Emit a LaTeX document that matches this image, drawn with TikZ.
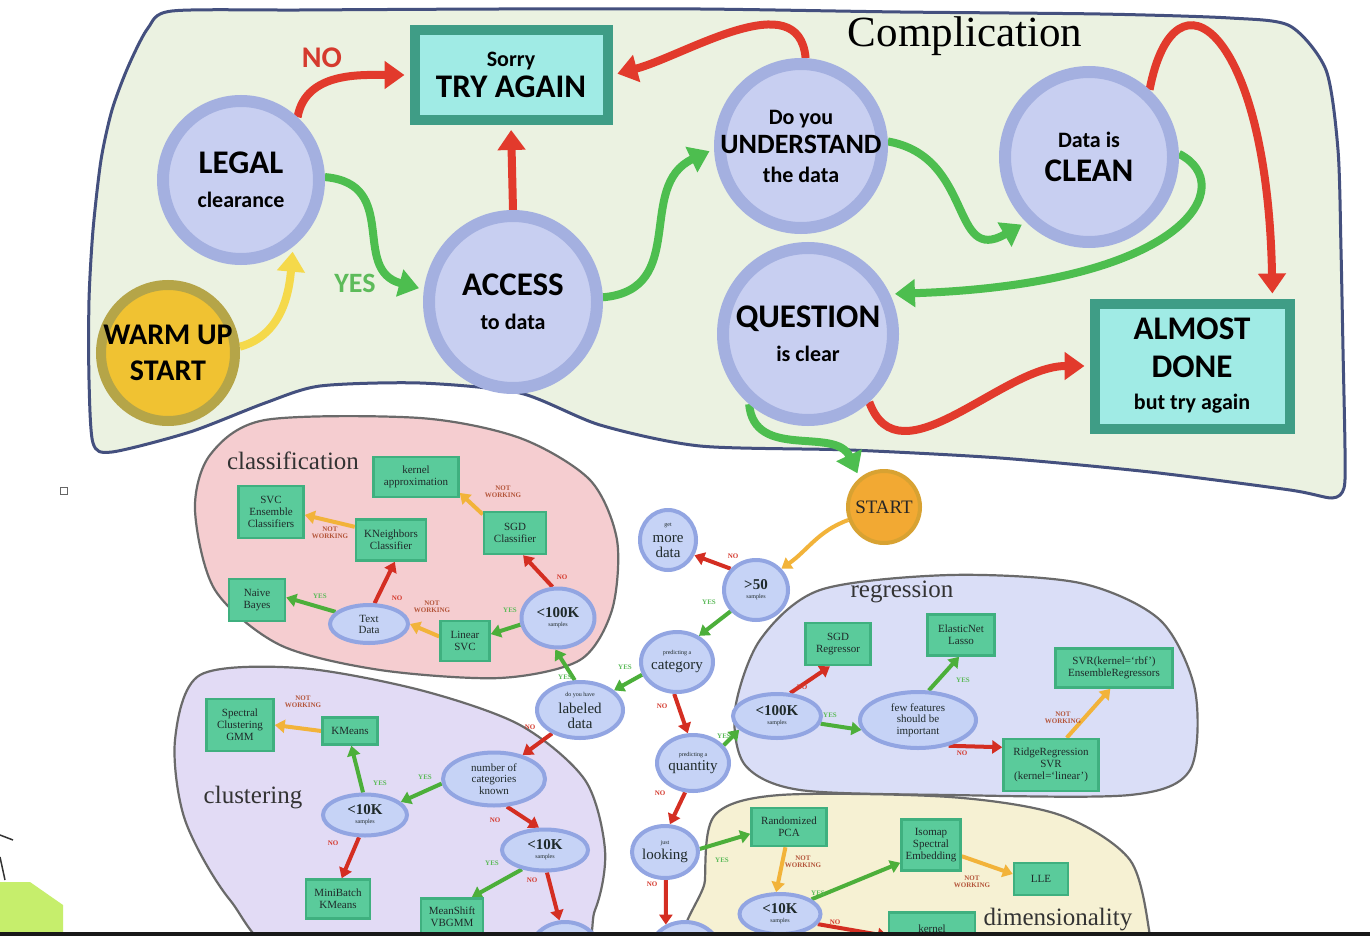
\documentclass[tikz,border=0pt]{standalone}
\usepackage{fontspec}
\setmainfont{Liberation Serif}
\newfontfamily\carl{Carlito}
\usetikzlibrary{shapes.geometric,arrows.meta,backgrounds}
\definecolor{topbg}{HTML}{EBF2E1}
\definecolor{topline}{HTML}{44507E}
\definecolor{ringblue}{HTML}{A4B0E0}
\definecolor{innerblue}{HTML}{C8CFF1}
\definecolor{boxteal}{HTML}{3F9D86}
\definecolor{boxcyan}{HTML}{A0EBE5}
\definecolor{warmfill}{HTML}{F0C232}
\definecolor{warmring}{HTML}{B5A548}
\definecolor{arrred}{HTML}{E23A2C}
\definecolor{arrgreen}{HTML}{4DBE4F}
\definecolor{arryellow}{HTML}{F5D94A}
\definecolor{labred}{HTML}{D53A2E}
\definecolor{labgreen}{HTML}{5DBB5A}
\definecolor{pinkblob}{HTML}{F5CDD0}
\definecolor{lilacblob}{HTML}{E2DBF5}
\definecolor{blueblob}{HTML}{DADEF7}
\definecolor{creamblob}{HTML}{F6F1D3}
\definecolor{blobline}{HTML}{6A6A6A}
\definecolor{skring}{HTML}{92A5E2}
\definecolor{skfill}{HTML}{C6D3F6}
\definecolor{skgreen}{HTML}{5ACB9B}
\definecolor{skgreendk}{HTML}{3FB07F}
\definecolor{skred}{HTML}{D42E22}
\definecolor{skgreenarr}{HTML}{4CAF3A}
\definecolor{skorange}{HTML}{F2B33A}
\definecolor{startfill}{HTML}{F2A933}
\definecolor{startring}{HTML}{D8A232}
\definecolor{nwcolor}{HTML}{B4553A}
\definecolor{limeshape}{HTML}{C6EE6C}
\definecolor{textdark}{HTML}{1F2A2A}
\newcommand\capsf{\carl\bfseries\fontsize{33}{36}\selectfont}
\newcommand\midf{\carl\bfseries\fontsize{28}{32}\selectfont}
\newcommand\smallf{\carl\bfseries\fontsize{22}{26}\selectfont}
\newcommand\sktiny{\fontsize{6}{6}\selectfont}
\newcommand\boxtxt{\fontsize{11}{12}\selectfont}
\newcommand\labtxt{\fontsize{7}{7}\selectfont\bfseries}
\newcommand\regtxt{\fontsize{25}{25}\selectfont}
\pgfdeclarelayer{arrowlayer}
\pgfsetlayers{background,arrowlayer,main}

\begin{document}
\begin{tikzpicture}[x=1pt,y=-1pt,
  bigq/.style={ellipse,fill=innerblue,draw=ringblue,line width=12pt,inner xsep=-70pt,inner ysep=-40pt,align=center,font=\carl\bfseries\fontsize{22}{34}\selectfont},
  bigbox/.style={rectangle,fill=boxcyan,draw=boxteal,line width=10pt,inner sep=0pt,align=center,font=\carl\bfseries\fontsize{22}{34}\selectfont},
  skq/.style={ellipse,fill=skfill,draw=skring,line width=4pt,inner xsep=-20pt,inner ysep=-12pt,align=center,text=textdark,font=\fontsize{15}{14}\selectfont},
  skbx/.style={rectangle,fill=skgreen,draw=skgreendk,line width=2.5pt,inner sep=0pt,align=center,font=\boxtxt,text=textdark},
  blob/.style={draw=blobline,line width=2.2pt},
  bigarrow/.style={line width=8pt,shorten >=5pt,-{Triangle[length=20pt,width=27pt]}},
  skarrow/.style={line width=4pt,-{Triangle[length=10pt,width=13pt]}},
  yeslab/.style={text=labgreen,font=\labtxt},
  nolab/.style={text=labred,font=\labtxt},
  nwlab/.style={text=nwcolor,font=\labtxt,align=center},
  arealab/.style={font=\regtxt,text=black!80}
]
\useasboundingbox (0,0) rectangle (1370,936);
\clip (0,0) rectangle (1370,936);

% regions
\begin{scope}[on background layer]
\fill[white] (0,0) rectangle (1370,936);
\draw[fill=topbg,draw=topline,line width=3pt] plot[smooth cycle,tension=0.45] coordinates {(172,11) (300,10) (500,9) (700,9) (900,12) (1100,14) (1230,18) (1290,26) (1326,70) (1338,150) (1341,250) (1343,350) (1345,450) (1344,488) (1332,498) (1290,490) (1150,472) (1000,458) (850,450) (700,446) (600,425) (520,393) (420,383) (320,386) (265,403) (190,432) (112,452) (93,443) (89,380) (89,300) (93,230) (101,160) (112,110) (128,67) (148,28)};
\draw[blob,fill=pinkblob] plot[smooth cycle] coordinates {(265,420) (420,418) (520,438) (590,480) (617,540) (612,610) (580,660) (500,678) (380,670) (280,645) (215,590) (195,510) (210,455)};
\draw[blob,fill=lilacblob] plot[smooth cycle] coordinates {(200,675) (300,668) (420,690) (520,725) (585,780) (605,850) (595,910) (560,960) (300,960) (230,900) (185,820) (175,740)};
\draw[blob,fill=blueblob] plot[smooth cycle] coordinates {(760,640) (820,590) (950,575) (1080,583) (1160,620) (1195,690) (1190,770) (1130,795) (950,795) (800,790) (745,765) (735,710)};
\draw[blob,fill=creamblob] plot[smooth cycle] coordinates {(715,815) (780,795) (950,797) (1060,815) (1130,860) (1150,936) (1150,970) (710,970) (705,880)};
\end{scope}

% top flow
\node[font=\rmfamily\fontsize{43}{43}\selectfont] (title) at (965,36) {Complication};
\node[bigbox,minimum width=193pt,minimum height=90pt] (try) at (511,75) {{\smallf Sorry}\\[-3pt]{\capsf TRY AGAIN}};
\node[bigq,minimum width=156pt,minimum height=158pt] (legal) at (241,180) {{\capsf LEGAL}\\{\smallf clearance}};
\node[bigq,fill=warmfill,draw=warmring,line width=10pt,minimum width=134pt,minimum height=136pt] (warm) at (168,353) {{\carl\bfseries\fontsize{30}{30}\selectfont WARM UP}\\[2pt]{\carl\bfseries\fontsize{30}{30}\selectfont START}};
\node[bigq,minimum width=168pt,minimum height=172pt] (access) at (513,302) {{\capsf ACCESS}\\{\smallf to data}};
\node[bigq,minimum width=162pt,minimum height=164pt] (under) at (801,146) {{\smallf Do you}\\[-5pt]{\midf UNDERSTAND}\\[-5pt]{\smallf the data}};
\node[bigq,minimum width=168pt,minimum height=170pt] (clean) at (1089,157) {{\smallf Data is}\\{\capsf CLEAN}};
\node[bigq,minimum width=170pt,minimum height=172pt] (quest) at (808,334) {{\capsf QUESTION}\\{\smallf is clear}};
\node[bigbox,minimum width=195pt,minimum height=125pt] (almost) at (1192,366) {{\capsf ALMOST}\\[4pt]{\capsf DONE}\\[-2pt]{\smallf but try again}};
\node[text=labred,font=\carl\bfseries\fontsize{30}{30}\selectfont] (nolabtop) at (322,58) {NO};
\node[text=labgreen,font=\carl\bfseries\fontsize{28}{28}\selectfont] (yeslabtop) at (355,283) {YES};
\node[skq,fill=startfill,draw=startring,minimum size=72pt,text=black!85,font=\fontsize{19}{19}\selectfont] (start) at (884,507) {START};

\begin{pgfonlayer}{arrowlayer}
\draw[bigarrow,color=arrred] (legal.48) to[out=80,in=180] (try.west);
\draw[bigarrow,color=arrgreen] (legal.2) to[out=-5,in=165,looseness=1.3] (access.172);
\draw[bigarrow,color=arryellow] (warm.5) to[out=15,in=-95] (legal.-52);
\draw[bigarrow,color=arrred] (access.north) -- (try.south);
\draw[bigarrow,color=arrgreen] (access.3) to[out=5,in=-155,looseness=1.2] (under.182);
\draw[bigarrow,color=arrred] (under.87) to[out=95,in=15] (try.east);
\draw[bigarrow,color=arrgreen] (under.3) to[out=-10,in=210,looseness=1.4] (clean.226);
\draw[bigarrow,color=arrred] (clean.48) .. controls +(25,-130) and +(-5,-270) .. (almost.40);
\draw[bigarrow,color=arrgreen] (clean.2) .. controls +(60,30) and +(300,-10) .. (quest.26);
\draw[bigarrow,color=arrred] (quest.-48) to[out=-70,in=180] (almost.west);
\draw[bigarrow,color=arrgreen] (quest.-130) to[out=-85,in=115,looseness=1.1] (start.130);
\end{pgfonlayer}

% centre column
\node[skq,minimum width=64pt,minimum height=60pt] (fifty) at (756,590) {{\bfseries >50}\\[-5pt]{\sktiny samples}};
\node[skq,minimum width=56pt,minimum height=60pt] (getdata) at (668,540) {{\sktiny get}\\[2pt]more\\[1pt]data};
\node[skq,minimum width=72pt,minimum height=60pt] (categ) at (677,662) {{\sktiny predicting a}\\[1pt]category};
\node[skq,minimum width=86pt,minimum height=56pt] (labeled) at (580,710) {{\sktiny do you have}\\[3pt]labeled\\[1pt]data};
\node[skq,minimum width=72pt,minimum height=56pt] (quant) at (693,763) {{\sktiny predicting a}\\[0pt]quantity};
\node[skq,minimum width=66pt,minimum height=52pt] (looking) at (665,852) {{\sktiny just}\\[1pt]looking};
\node[skq,minimum width=70pt,minimum height=60pt] (hidA) at (565,952) {};
\node[skq,minimum width=70pt,minimum height=60pt] (hidB) at (685,952) {};

% classification
\node[arealab] (classlab) at (293,461) {classification};
\node[skbx,minimum width=85pt,minimum height=40pt] (kernapp) at (416,477) {kernel\\approximation};
\node[skbx,minimum width=65pt,minimum height=52pt] (svcens) at (271,512) {SVC\\Ensemble\\Classifiers};
\node[skbx,minimum width=70pt,minimum height=41pt] (kneigh) at (391,540) {KNeighbors\\Classifier};
\node[skbx,minimum width=62pt,minimum height=42pt] (sgdcl) at (515,533) {SGD\\Classifier};
\node[skbx,minimum width=56pt,minimum height=42pt] (naive) at (257,600) {Naive\\Bayes};
\node[skq,minimum width=78pt,minimum height=38pt,font=\fontsize{11}{11}\selectfont] (textdata) at (369,624) {Text\\Data};
\node[skbx,minimum width=49pt,minimum height=40pt] (linsvc) at (465,641) {Linear\\SVC};
\node[skq,minimum width=73pt,minimum height=59pt] (lowclass) at (558,618) {{\bfseries <100K}\\[-5pt]{\sktiny samples}};

% clustering
\node[arealab] (clustlab) at (253,798) {clustering};
\node[skbx,minimum width=67pt,minimum height=52pt] (spectral) at (240,725) {Spectral\\Clustering\\GMM};
\node[skbx,minimum width=55pt,minimum height=27pt] (kmeans) at (350,731) {KMeans};
\node[skq,minimum width=102pt,minimum height=53pt,font=\fontsize{11}{11.5}\selectfont] (numcat) at (494,779) {number of\\categories\\known};
\node[skq,minimum width=84pt,minimum height=41pt] (lowclustA) at (365,815) {{\bfseries <10K}\\[-5pt]{\sktiny samples}};
\node[skq,minimum width=86pt,minimum height=41pt] (lowclustB) at (545,850) {{\bfseries <10K}\\[-5pt]{\sktiny samples}};
\node[skbx,minimum width=64pt,minimum height=39pt] (minibatch) at (338,899) {MiniBatch\\KMeans};
\node[skbx,minimum width=62pt,minimum height=37pt] (meanshift) at (452,917) {MeanShift\\VBGMM};

% regression
\node[arealab] (reglab) at (902,592) {regression};
\node[skq,minimum width=88pt,minimum height=44pt] (lowreg) at (777,716) {{\bfseries <100K}\\[-5pt]{\sktiny samples}};
\node[skbx,minimum width=65pt,minimum height=42pt] (sgdreg) at (838,644) {SGD\\Regressor};
\node[skbx,minimum width=67pt,minimum height=41pt] (elastic) at (961,635) {ElasticNet\\Lasso};
\node[skq,minimum width=116pt,minimum height=56pt,font=\fontsize{11}{11.5}\selectfont] (fewfeat) at (918,720) {few features\\should be\\important};
\node[skbx,minimum width=117pt,minimum height=39pt] (svrrbf) at (1114,668) {SVR(kernel=`rbf')\\EnsembleRegressors};
\node[skbx,minimum width=95pt,minimum height=52pt] (ridge) at (1051,765) {RidgeRegression\\SVR\\(kernel=`linear')};

% dimensionality
\node[arealab] (dimlab) at (1058,920) {dimensionality};
\node[skbx,minimum width=75pt,minimum height=38pt] (rpca) at (789,827) {Randomized\\PCA};
\node[skbx,minimum width=59pt,minimum height=51pt] (isomap) at (931,845) {Isomap\\Spectral\\Embedding};
\node[skbx,minimum width=54pt,minimum height=32pt] (lle) at (1041,879) {LLE};
\node[skq,minimum width=81pt,minimum height=40pt] (lowdim) at (780,914) {{\bfseries <10K}\\[-5pt]{\sktiny samples}};
\node[skbx,minimum width=86pt,minimum height=48pt,anchor=north] (kernel) at (932,911) {kernel\\approximation};

\begin{pgfonlayer}{arrowlayer}
\draw[skarrow,color=skorange] (start.200) to[out=200,in=35] (fifty.40);
\draw[skarrow,color=skred] (fifty.140) -- (getdata.-30);
\draw[skarrow,color=skgreenarr] (fifty.-140) -- (categ.50);
\draw[skarrow,color=skgreenarr] (categ.200) -- (labeled.30);
\draw[skarrow,color=skgreenarr] (labeled.100) -- (lowclass.-95);
\draw[skarrow,color=skred] (categ.-95) -- (quant.100);
\draw[skarrow,color=skgreenarr] (quant.30) -- (lowreg.200);
\draw[skarrow,color=skred] (quant.-105) -- (looking.80);
\draw[skarrow,color=skgreenarr] (looking.5) -- (rpca.190);
\draw[skarrow,color=skred] (looking.-88) -- (hidB.125);
\draw[skarrow,color=skred] (labeled.-140) -- (numcat.40);
\draw[skarrow,color=skred] (lowclass.100) -- (sgdcl.-70);
\draw[skarrow,color=skorange] (sgdcl.150) -- (kernapp.-20);
\draw[skarrow,color=skgreenarr] (lowclass.190) -- (linsvc.15);
\draw[skarrow,color=skorange] (linsvc.170) -- (textdata.0);
\draw[skarrow,color=skred] (textdata.75) -- (kneigh.-80);
\draw[skarrow,color=skgreenarr] (textdata.160) -- (naive.5);
\draw[skarrow,color=skorange] (kneigh.160) -- (svcens.-5);
\draw[skarrow,color=skgreenarr] (numcat.185) -- (lowclustA.20);
\draw[skarrow,color=skgreenarr] (lowclustA.95) -- (kmeans.-85);
\draw[skarrow,color=skorange] (kmeans.west) -- (spectral.east);
\draw[skarrow,color=skred] (lowclustA.-105) -- (minibatch.80);
\draw[skarrow,color=skred] (numcat.-65) -- (lowclustB.105);
\draw[skarrow,color=skgreenarr] (lowclustB.-140) -- (meanshift.45);
\draw[skarrow,color=skred] (lowclustB.-85) -- (hidA.100);
\draw[skarrow,color=skred] (lowreg.60) -- (sgdreg.-110);
\draw[skarrow,color=skgreenarr] (lowreg.-10) -- (fewfeat.190);
\draw[skarrow,color=skgreenarr] (fewfeat.70) -- (elastic.-95);
\draw[skarrow,color=skred] (fewfeat.-40) -- (ridge.160);
\draw[skarrow,color=skorange] (ridge.60) -- (svrrbf.-100);
\draw[skarrow,color=skorange] (rpca.-100) -- (lowdim.100);
\draw[skarrow,color=skgreenarr] (lowdim.25) -- (isomap.-150);
\draw[skarrow,color=skorange] (isomap.-20) -- (lle.170);
\draw[skarrow,color=skred] (lowdim.-15) -- (kernel.west);
\end{pgfonlayer}

% small labels
\node[nolab] (l1) at (562,577) {NO};
\node[nwlab] (l2) at (503,492) {NOT\\WORKING};
\node[yeslab] (l3) at (510,610) {YES};
\node[nwlab] (l4) at (432,607) {NOT\\WORKING};
\node[nolab] (l5) at (397,598) {NO};
\node[yeslab] (l6) at (320,596) {YES};
\node[nwlab] (l7) at (330,533) {NOT\\WORKING};
\node[nolab] (l8) at (733,556) {NO};
\node[yeslab] (l9) at (709,602) {YES};
\node[yeslab] (l10) at (625,667) {YES};
\node[yeslab] (l11) at (565,677) {YES};
\node[nolab] (l12) at (662,706) {NO};
\node[yeslab] (l13) at (724,736) {YES};
\node[nolab] (l14) at (660,793) {NO};
\node[yeslab] (l15) at (722,860) {YES};
\node[nolab] (l16) at (652,884) {NO};
\node[nolab] (l17) at (530,727) {NO};
\node[nwlab] (l18) at (303,702) {NOT\\WORKING};
\node[yeslab] (l19) at (380,783) {YES};
\node[yeslab] (l20) at (425,777) {YES};
\node[nolab] (l21) at (333,843) {NO};
\node[nolab] (l22) at (495,820) {NO};
\node[yeslab] (l23) at (492,863) {YES};
\node[nolab] (l24) at (532,880) {NO};
\node[nolab] (l25) at (802,687) {NO};
\node[yeslab] (l26) at (830,715) {YES};
\node[yeslab] (l27) at (963,680) {YES};
\node[nolab] (l28) at (962,753) {NO};
\node[nwlab] (l29) at (1063,718) {NOT\\WORKING};
\node[nwlab] (l30) at (803,862) {NOT\\WORKING};
\node[yeslab] (l31) at (818,893) {YES};
\node[nwlab] (l32) at (972,882) {NOT\\WORKING};
\node[nolab] (l33) at (835,922) {NO};

% screen bits
\fill[limeshape] (0,882) -- (30,882) -- (63,905) -- (63,936) -- (0,936) -- cycle;
\draw[black!80,line width=1.5pt] (0,835) -- (13,840);
\draw[black!80,line width=1.5pt] (0,857) -- (5,880);
\draw[black!60,line width=0.8pt] (60,487) rectangle (67,494);
\fill[black!90] (0,932) rectangle (1370,936);
\end{tikzpicture}
\end{document}
